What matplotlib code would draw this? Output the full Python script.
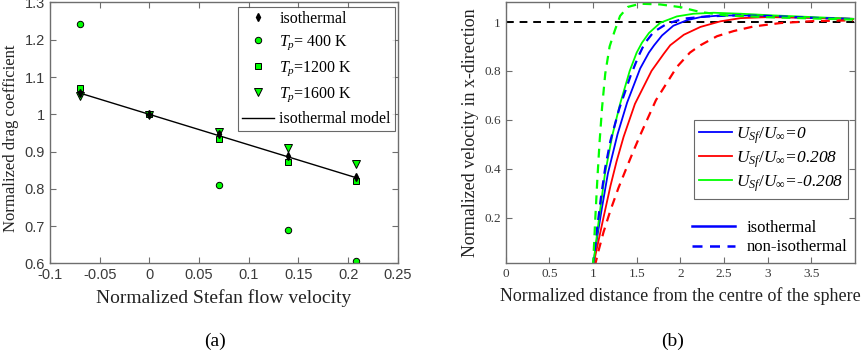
import matplotlib
matplotlib.use("Agg")
import matplotlib.pyplot as plt
from matplotlib.lines import Line2D
from matplotlib.ticker import FuncFormatter

# --- (a) drag coefficient vs Stefan flow velocity ---------------------------
stefan = [-0.07, 0.0, 0.07, 0.139, 0.208]
cd_iso = [1.056, 1.0, 0.946, 0.889, 0.832]
cd_400 = [1.242, 1.0, 0.81, 0.69, 0.606]
cd_1200 = [1.07, 1.0, 0.934, 0.873, 0.82]
cd_1600 = [1.049, 0.997, 0.952, 0.909, 0.867]
model_x = [-0.07, 0.208]
model_y = [1.057, 0.830]

# --- (b) velocity profiles along x ------------------------------------------
# solid = isothermal, dashed = non-isothermal, for U_Sf/U_inf = 0, 0.208, -0.208
x_b = [1.0, 1.05, 1.10, 1.17, 1.28, 1.39, 1.54, 1.64, 1.70, 1.79, 1.92, 2.08,
       2.23, 2.46, 2.76, 3.22, 3.98]
u_b = [0.0, 0.125, 0.235, 0.38, 0.54, 0.67, 0.81, 0.875, 0.905, 0.945, 0.985,
       1.008, 1.02, 1.027, 1.027, 1.02, 1.013]
x_bn = [1.0, 1.045, 1.09, 1.14, 1.20, 1.30, 1.43, 1.52, 1.59, 1.693, 1.846,
        2.04, 2.3, 2.61, 3.0, 3.45, 3.98]
u_bn = [0.0, 0.15, 0.28, 0.405, 0.515, 0.645, 0.78, 0.86, 0.912, 0.959, 0.993,
        1.014, 1.023, 1.027, 1.025, 1.018, 1.012]

x_r = [1.0, 1.06, 1.12, 1.20, 1.27, 1.35, 1.48, 1.67, 1.81, 1.884, 2.04, 2.23,
       2.46, 2.69, 2.99, 3.45, 3.98]
u_r = [0.0, 0.10, 0.20, 0.33, 0.43, 0.53, 0.665, 0.80, 0.87, 0.905, 0.948,
       0.98, 1.003, 1.016, 1.02, 1.018, 1.013]
x_rn = [1.02, 1.06, 1.12, 1.20, 1.29, 1.38, 1.46, 1.55, 1.72, 1.96, 2.11, 2.23,
        2.42, 2.61, 2.84, 3.15, 3.53, 3.98]
u_rn = [0.0, 0.06, 0.14, 0.23, 0.32, 0.40, 0.47, 0.545, 0.68, 0.816, 0.875,
        0.905, 0.942, 0.963, 0.982, 0.996, 1.004, 1.007]

x_g = [1.0, 1.045, 1.09, 1.135, 1.22, 1.31, 1.42, 1.50, 1.56, 1.64, 1.77, 1.96,
       2.15, 2.38, 2.69, 3.07, 3.53, 3.98]
u_g = [0.0, 0.13, 0.255, 0.375, 0.535, 0.665, 0.80, 0.875, 0.915, 0.955, 0.997,
       1.023, 1.034, 1.038, 1.034, 1.027, 1.02, 1.013]
x_gn = [1.0, 1.025, 1.05, 1.075, 1.104, 1.14, 1.19, 1.25, 1.31, 1.40, 1.54,
        1.77, 2.0, 2.23, 2.53, 2.99, 3.99]
u_gn = [0.0, 0.19, 0.36, 0.51, 0.652, 0.789, 0.90, 0.966, 1.025, 1.062, 1.075,
        1.072, 1.061, 1.041, 1.027, 1.02, 1.01]

plt.rcParams["font.family"] = "Liberation Serif"
plt.rcParams["mathtext.fontset"] = "custom"
plt.rcParams["mathtext.rm"] = "Liberation Serif"
plt.rcParams["mathtext.it"] = "Liberation Serif:italic"

FRAME = "#6e6e6e"
TICKTXT = "#3a3a3a"
LABEL = "#222222"
LIME = "#00ff00"
DASH = (0, (4, 3))

fig = plt.figure(figsize=(8.63, 3.56), dpi=100)
ax1 = fig.add_axes([0.058, 0.26, 0.403, 0.733])
ax2 = fig.add_axes([0.586, 0.26, 0.4047, 0.733])

fmt = FuncFormatter(lambda v, _: f"{v:g}")
for ax in (ax1, ax2):
    for s in ax.spines.values():
        s.set_color(FRAME)
        s.set_linewidth(1.0)
    ax.tick_params(direction="in", top=True, right=True, length=4,
                   color=FRAME, labelcolor=TICKTXT)
    ax.xaxis.set_major_formatter(fmt)
    ax.yaxis.set_major_formatter(fmt)

# (a)
mk = dict(linestyle="none", markerfacecolor=LIME, markeredgecolor="black",
          markeredgewidth=0.7)
ax1.plot(model_x, model_y, color="black", lw=1.0, label="isothermal model")
ax1.plot(stefan, cd_400, marker="o", markersize=4.6, label=r"$T_p$= 400 K", **mk)
ax1.plot(stefan, cd_1200, marker="s", markersize=4.4, label=r"$T_p$=1200 K", **mk)
ax1.plot(stefan, cd_1600, marker="v", markersize=5.5, label=r"$T_p$=1600 K", **mk)
ax1.plot(stefan, cd_iso, marker="d", markersize=4, linestyle="none",
         color="black", label="isothermal")
ax1.set_xlim(-0.1, 0.25)
ax1.set_ylim(0.6, 1.3)
ax1.set_xticks([-0.1, -0.05, 0, 0.05, 0.1, 0.15, 0.2, 0.25])
ax1.set_yticks([0.6, 0.7, 0.8, 0.9, 1.0, 1.1, 1.2, 1.3])
for lab in ax1.get_xticklabels() + ax1.get_yticklabels():
    lab.set_fontfamily("Liberation Sans")
    lab.set_fontsize(10.5)
ax1.set_xlabel("Normalized Stefan flow velocity", fontsize=14, color=LABEL,
               labelpad=5)
ax1.set_ylabel("Normalized drag coefficient", fontsize=12, color=LABEL)
ax1.yaxis.set_label_coords(-0.088, 0.479)
h, l = ax1.get_legend_handles_labels()
order = [4, 1, 2, 3, 0]
leg1 = ax1.legend([h[i] for i in order], [l[i] for i in order],
                  loc="upper right", bbox_to_anchor=(0.991, 0.984),
                  borderaxespad=0, fontsize=11.5, frameon=True, fancybox=False,
                  edgecolor="#444444", handlelength=2.0, labelspacing=0.45,
                  borderpad=0.25, handletextpad=0.3)
leg1.get_frame().set_linewidth(0.8)

# (b)
ax2.axhline(1.0, color="black", lw=1.4, ls=DASH)
ax2.plot(x_b, u_b, color="blue", lw=1.3)
ax2.plot(x_r, u_r, color="red", lw=1.3)
ax2.plot(x_g, u_g, color=LIME, lw=1.3)
ax2.plot(x_bn, u_bn, color="blue", lw=1.6, ls=DASH)
ax2.plot(x_rn, u_rn, color="red", lw=1.6, ls=DASH)
ax2.plot(x_gn, u_gn, color=LIME, lw=1.6, ls=DASH)
ax2.set_xlim(0, 4)
ax2.set_ylim(0.012, 1.08)
ax2.set_xticks([0, 0.5, 1, 1.5, 2, 2.5, 3, 3.5])
ax2.set_yticks([0.2, 0.4, 0.6, 0.8, 1.0])
ax2.tick_params(labelsize=9.5)
ax2.set_xlabel("Normalized distance from the centre of the sphere", fontsize=13,
               color=LABEL, labelpad=5)
ax2.set_ylabel("Normalized velocity in x-direction", fontsize=13, color=LABEL)

ratio_handles = [Line2D([], [], color=c, lw=1.3) for c in ("blue", "red", LIME)]
ratio_labels = [r"$U_{Sf}/U_{\infty}$=0",
                r"$U_{Sf}/U_{\infty}$=0.208",
                r"$U_{Sf}/U_{\infty}$=-0.208"]
leg2 = ax2.legend(ratio_handles, ratio_labels, loc="upper left",
                  bbox_to_anchor=(0.539, 0.55), borderaxespad=0,
                  prop={"size": 12.5, "style": "italic"}, frameon=True,
                  fancybox=False, edgecolor="#444444", handlelength=1.9,
                  labelspacing=0.2, borderpad=0.3, handletextpad=0.2)
leg2.get_frame().set_linewidth(0.8)
ax2.add_artist(leg2)

kind_handles = [Line2D([], [], color="blue", lw=1.8),
                Line2D([], [], color="blue", lw=1.8, ls=DASH)]
ax2.legend(kind_handles, ["isothermal", "non-isothermal"], loc="upper left",
           bbox_to_anchor=(0.5325, 0.166), borderaxespad=0, borderpad=0,
           fontsize=12, frameon=False, handlelength=2.6, labelspacing=0.2,
           handletextpad=0.7)

fig.text(0.249, 0.04, "(a)", fontsize=14, ha="center", va="center")
fig.text(0.779, 0.04, "(b)", fontsize=14, ha="center", va="center")

fig.savefig("out.png", dpi=100)
